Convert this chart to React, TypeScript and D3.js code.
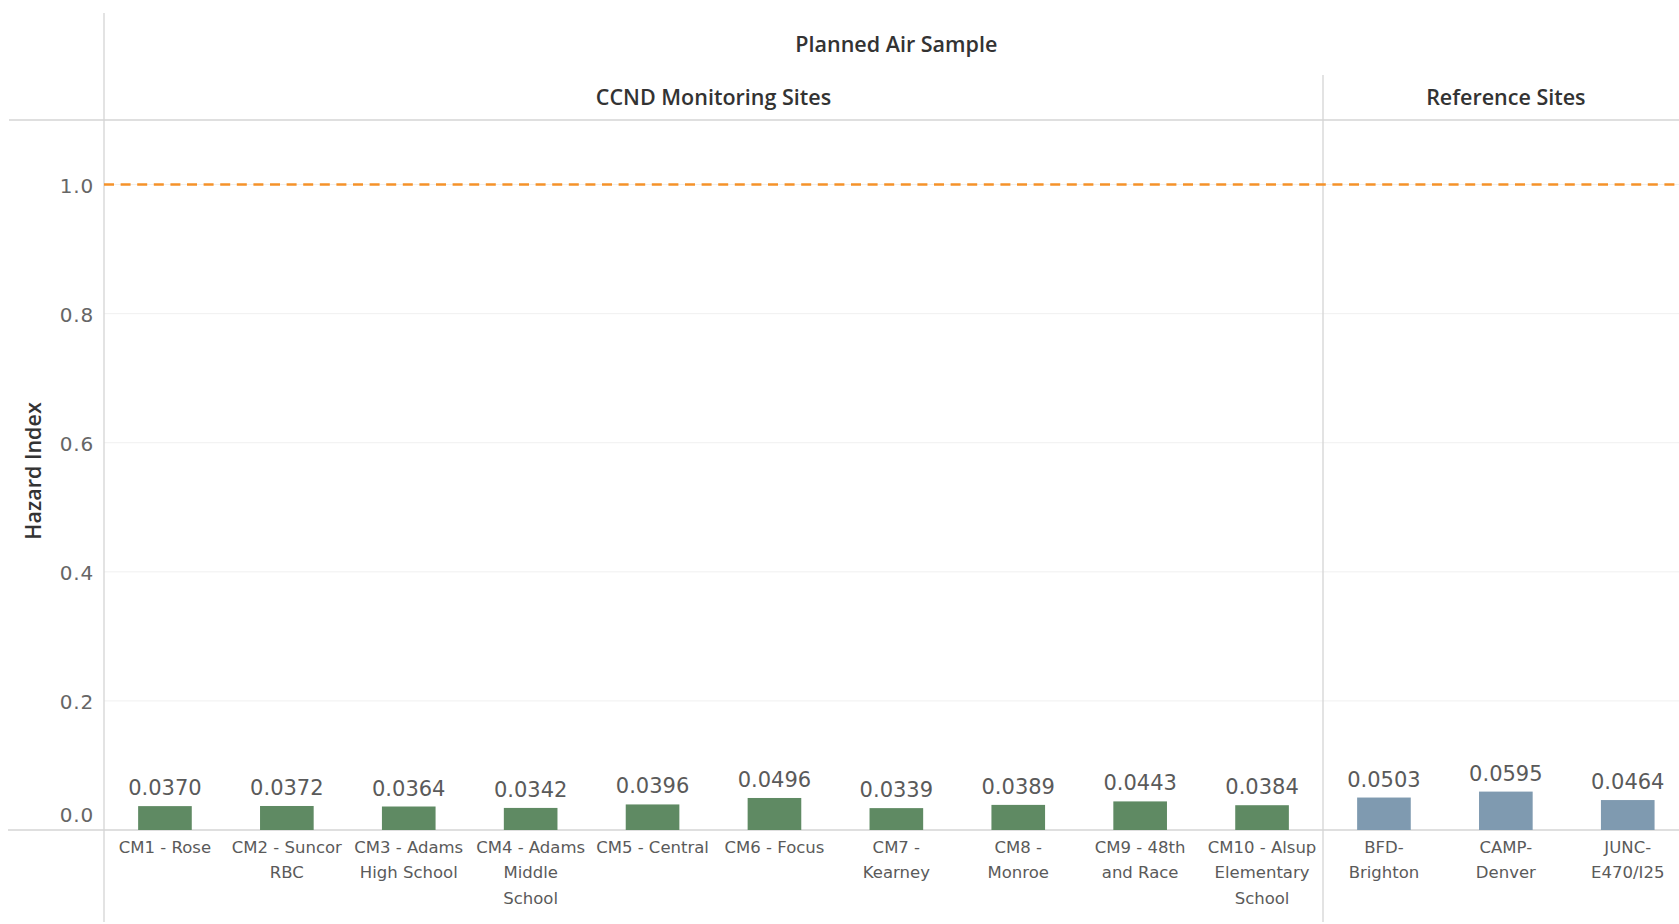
import React, { useEffect } from "react";
import * as d3 from "d3";

// categories (| marks a line break in the axis label)
const ccndSites = [
  "CM1 - Rose",
  "CM2 - Suncor|RBC",
  "CM3 - Adams|High School",
  "CM4 - Adams|Middle|School",
  "CM5 - Central",
  "CM6 - Focus",
  "CM7 -|Kearney",
  "CM8 -|Monroe",
  "CM9 - 48th|and Race",
  "CM10 - Alsup|Elementary|School",
];
const ccndValues = [0.037, 0.0372, 0.0364, 0.0342, 0.0396, 0.0496, 0.0339, 0.0389, 0.0443, 0.0384];

const refSites = ["BFD-|Brighton", "CAMP-|Denver", "JUNC-|E470/I25"];
const refValues = [0.0503, 0.0595, 0.0464];

const yTicks = [0, 0.2, 0.4, 0.6, 0.8, 1.0];
const threshold = 1.0;

const W = 1679;
const H = 924;

function App() {
  const ref = React.useRef<SVGSVGElement>(null);

  useEffect(() => {
    const svg = d3.select(ref.current);
    svg.selectAll("*").remove();

    const axisX = 104;
    const divX = 1323;
    const headerY = 120;
    const baseY = 830;
    const step = (divX - axisX) / ccndSites.length;

    const y = d3.scaleLinear().domain([0, 1.1]).range([baseY, 120]);

    const xL = d3.scaleBand<string>()
      .domain(ccndSites)
      .range([axisX, divX])
      .paddingInner(0.56)
      .paddingOuter(0.28);
    const xR = d3.scaleBand<string>()
      .domain(refSites)
      .range([divX, divX + step * refSites.length])
      .paddingInner(0.56)
      .paddingOuter(0.28);

    // gridlines
    svg.append("g")
      .selectAll("line")
      .data(yTicks.filter(d => d > 0))
      .enter()
      .append("line")
      .attr("x1", axisX)
      .attr("x2", W)
      .attr("y1", d => y(d))
      .attr("y2", d => y(d))
      .attr("stroke", "#f0f0f0")
      .attr("stroke-width", 1);

    // frame lines
    const lines = [
      [axisX, 13, axisX, 922],
      [divX, 75, divX, 922],
      [9, headerY, W, headerY],
      [8, baseY, W, baseY],
    ];
    svg.append("g")
      .selectAll("line")
      .data(lines)
      .enter()
      .append("line")
      .attr("x1", d => d[0])
      .attr("y1", d => d[1])
      .attr("x2", d => d[2])
      .attr("y2", d => d[3])
      .attr("stroke", "#d4d4d4")
      .attr("stroke-width", 1.3);

    // y tick labels
    svg.append("g")
      .selectAll("text")
      .data(yTicks)
      .enter()
      .append("text")
      .attr("x", 94)
      .attr("y", d => (d === 0 ? y(d) - 15 : y(d) + 1))
      .attr("dy", "0.36em")
      .attr("text-anchor", "end")
      .attr("font-family", "DejaVu Sans")
      .attr("font-size", 20)
      .attr("letter-spacing", 0.8)
      .attr("fill", "#666")
      .text(d => d3.format(".1f")(d));

    // y title
    svg.append("text")
      .attr("transform", `translate(41,${(headerY + baseY) / 2 - 4}) rotate(-90)`)
      .attr("text-anchor", "middle")
      .attr("font-family", "Open Sans")
      .attr("font-weight", 600)
      .attr("font-size", 21.5)
      .attr("fill", "#333")
      .text("Hazard Index");

    // headers
    const headers = [
      { t: "Planned Air Sample", x: (axisX + divX + step * refSites.length) / 2, y: 52 },
      { t: "CCND Monitoring Sites", x: (axisX + divX) / 2, y: 105 },
      { t: "Reference Sites", x: divX + (step * refSites.length) / 2, y: 105 },
    ];
    svg.append("g")
      .selectAll("text")
      .data(headers)
      .enter()
      .append("text")
      .attr("x", d => d.x)
      .attr("y", d => d.y)
      .attr("text-anchor", "middle")
      .attr("font-family", "Open Sans")
      .attr("font-weight", 600)
      .attr("font-size", 21.5)
      .attr("fill", "#333")
      .text(d => d.t);

    const drawPanel = (names: string[], values: number[], x: d3.ScaleBand<string>, color: string) => {
      const data = names.map((n, i) => ({ n, v: values[i] }));
      const g = svg.append("g");
      g.selectAll("rect")
        .data(data)
        .enter()
        .append("rect")
        .attr("x", d => x(d.n)!)
        .attr("y", d => y(d.v))
        .attr("width", x.bandwidth())
        .attr("height", d => y(0) - y(d.v))
        .attr("fill", color);
      g.selectAll("text.val")
        .data(data)
        .enter()
        .append("text")
        .attr("class", "val")
        .attr("x", d => x(d.n)! + x.bandwidth() / 2)
        .attr("y", d => y(d.v) - 11)
        .attr("text-anchor", "middle")
        .attr("font-family", "DejaVu Sans")
        .attr("font-size", 21)
        .attr("fill", "#5a5a5a")
        .text(d => d3.format(".4f")(d.v));
      const lbl = g.selectAll("text.cat")
        .data(data)
        .enter()
        .append("text")
        .attr("class", "cat")
        .attr("text-anchor", "middle")
        .attr("font-family", "DejaVu Sans")
        .attr("font-size", 16.5)
        .attr("fill", "#5a5a5a");
      lbl.selectAll("tspan")
        .data(d => d.n.split("|").map(s => ({ s, cx: x(d.n)! + x.bandwidth() / 2 })))
        .enter()
        .append("tspan")
        .attr("x", d => d.cx)
        .attr("y", (d, i) => 853 + i * 25.4)
        .text(d => d.s);
    };

    drawPanel(ccndSites, ccndValues, xL, "#5f8a63");
    drawPanel(refSites, refValues, xR, "#7f9ab0");

    // reference line
    svg.append("line")
      .attr("x1", axisX)
      .attr("x2", W)
      .attr("y1", y(threshold))
      .attr("y2", y(threshold))
      .attr("stroke", "#f5922a")
      .attr("stroke-width", 2.5)
      .attr("stroke-dasharray", "10,6.6");

    return () => {};
  }, []);

  return (
    <svg
      ref={ref}
      width={W}
      height={H}
      style={{ position: "fixed", left: 0, top: 0, background: "#fff" }}
    />
  );
}

export default App;
